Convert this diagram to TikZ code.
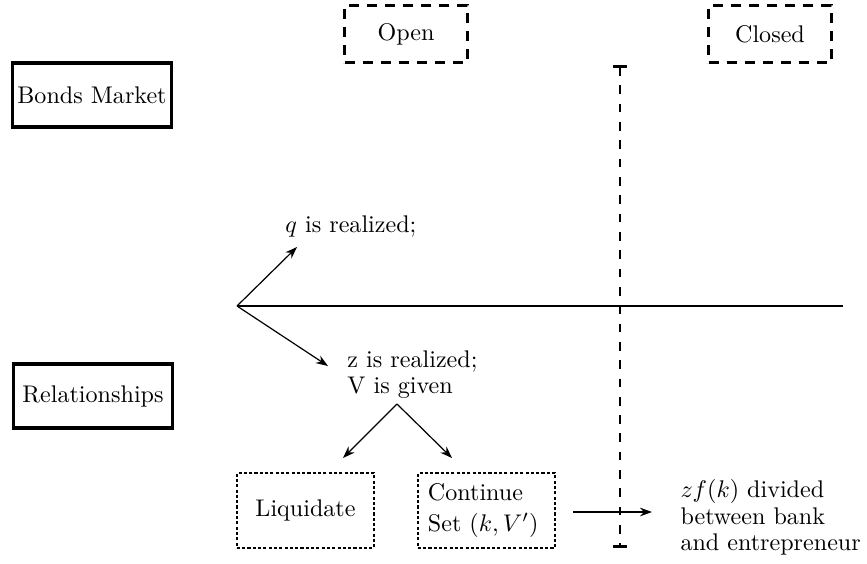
\documentclass[tikz,border=0pt]{standalone}
\usepackage{tikz}
\usetikzlibrary{positioning,arrows.meta}
\tikzset{>={Stealth[length=5pt,width=3.6pt]}}

\begin{document}
\begin{tikzpicture}[x=0.415pt,y=-0.415pt,
  market/.style={draw,line width=1.4pt,inner xsep=2pt,minimum width=66pt,minimum height=26.5pt},
  phase/.style={draw,line width=1.3pt,dash pattern=on 4.2pt off 3.3pt,minimum width=51pt,minimum height=24pt},
  choice/.style={draw,line width=0.7pt,dash pattern=on 1.3pt off 0.9pt,minimum height=31pt},
  note/.style={inner sep=0pt,align=left,font=\fontsize{10}{11}\selectfont},
  event/.style={->,line width=0.5pt}]
\useasboundingbox (0,0) rectangle (867,563);
% markets and phases
\node[phase] (open) at (406,34) {Open};
\node[phase] (closed) at (770,34) {Closed};
\node[market] (bonds) at (92,95) {Bonds Market};
\node[market] (rel) at (93,396) {Relationships};
% time line
\coordinate (start) at (237,306);
\coordinate (tend) at (843,306);
\draw[line width=1.1pt] (start) -- (tend);
\coordinate (vtop) at (620,65);
\coordinate (vbot) at (620,548);
\draw[line width=0.8pt,dash pattern=on 3.6pt off 4pt,{Bar[width=5.5pt,line width=1.2pt]}-{Bar[width=5.5pt,line width=1.2pt]}] (vtop) -- (vbot);
% shocks
\node[note,anchor=base west] (qtext) at (285,232) {$q$ is realized;};
\coordinate (qtip) at (297,247);
\draw[event] (start) -- (qtip);
\node[note,anchor=north west] (ztext) at (347,350) {z is realized;\\V is given};
\coordinate (ztip) at (328,366);
\draw[event] (start) -- (ztip);
% choice
\coordinate (fork) at (397,404);
\node[choice,minimum width=57pt] (liq) at (305.5,510.5) {Liquidate};
\node[choice,text width=48.6pt,inner xsep=4.2pt,align=left] (cont) at (486.5,510.5) {Continue\\[0.5pt]Set $(k,V')$};
\coordinate (liqtip) at (343,458);
\coordinate (conttip) at (452,458);
\draw[event] (fork) -- (liqtip);
\draw[event] (fork) -- (conttip);
% payoff
\node[note,anchor=north west] (payoff) at (680,479) {$zf(k)$ divided\\between bank\\and entrepreneur};
\coordinate (payin) at (573,512);
\coordinate (payout) at (652,512);
\draw[event] (payin) -- (payout);
\end{tikzpicture}
\end{document}
